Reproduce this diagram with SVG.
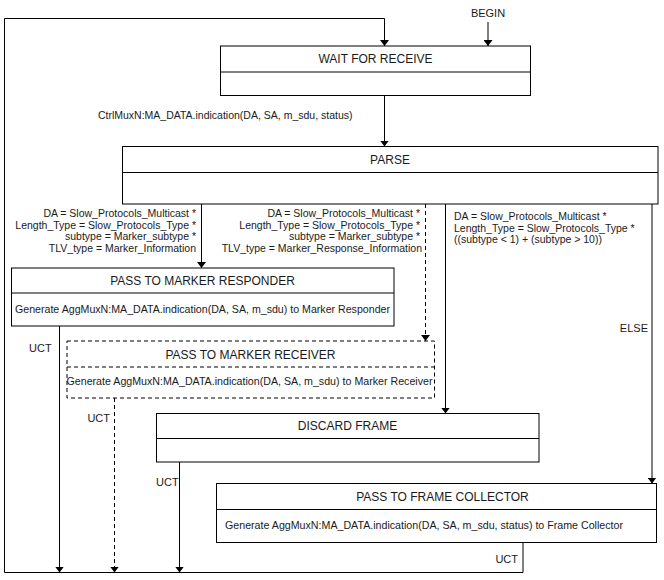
<svg xmlns="http://www.w3.org/2000/svg" width="664" height="580" viewBox="0 0 664 580">
<style>
.box{fill:#fff;stroke:#000;stroke-width:1}
.dbox{fill:#fff;stroke:#000;stroke-width:1;stroke-dasharray:4,3}
.ln{fill:none;stroke:#000;stroke-width:1}
.dl{fill:none;stroke:#000;stroke-width:1;stroke-dasharray:4,3}
text{font-family:"Liberation Sans",Arial,sans-serif;fill:#1a1a1a}
.t{font-size:12px;text-anchor:middle}
.b{font-size:11px}
.c{font-size:10.5px}
.e{text-anchor:end}
</style>
<defs>
<marker id="ah" viewBox="0 0 6 9" refX="6" refY="4.5" markerWidth="6" markerHeight="9" markerUnits="userSpaceOnUse" orient="auto">
<path d="M0,0 L6,4.5 L0,9 z" fill="#000"/>
</marker>
</defs>
<g id="connectors">
<path class="ln" d="M523,542.5 V572.5 H4.5 V18.5 H384.5 V46" marker-end="url(#ah)"/>
<path class="ln" d="M488,22 V46" marker-end="url(#ah)"/>
<path class="ln" d="M384.5,95.5 V146.5" marker-end="url(#ah)"/>
<path class="ln" d="M201.5,204 V268" marker-end="url(#ah)"/>
<path class="dl" d="M425.5,204 V341" marker-end="url(#ah)"/>
<path class="ln" d="M445.5,204 V413.5" marker-end="url(#ah)"/>
<path class="ln" d="M652,204 V483.5" marker-end="url(#ah)"/>
<path class="ln" d="M59.5,326 V572.5" marker-end="url(#ah)"/>
<path class="dl" d="M114.5,398 V572.5" marker-end="url(#ah)"/>
<path class="ln" d="M179.5,462 V572.5" marker-end="url(#ah)"/>
<text x="488" y="17" class="b" text-anchor="middle">BEGIN</text>
<text x="352.5" y="119" class="e" font-size="10.5">CtrlMuxN:MA_DATA.indication(DA, SA, m_sdu, status)</text>
<text x="196" y="217" class="c e">DA = Slow_Protocols_Multicast *</text>
<text x="196" y="228.5" class="c e">Length_Type = Slow_Protocols_Type *</text>
<text x="196" y="240" class="c e">subtype = Marker_subtype *</text>
<text x="196" y="251.5" class="c e">TLV_type = Marker_Information</text>
<text x="420" y="217" class="c e">DA = Slow_Protocols_Multicast *</text>
<text x="420" y="228.5" class="c e">Length_Type = Slow_Protocols_Type *</text>
<text x="420" y="240" class="c e">subtype = Marker_subtype *</text>
<text x="422" y="251.5" class="c e">TLV_type = Marker_Response_Information</text>
<text x="454" y="220" class="c">DA = Slow_Protocols_Multicast *</text>
<text x="454" y="231.5" class="c">Length_Type = Slow_Protocols_Type *</text>
<text x="454" y="243" class="c">((subtype &lt; 1) + (subtype &gt; 10))</text>
<text x="648" y="332" class="b e">ELSE</text>
<text x="29" y="352" class="b">UCT</text>
<text x="110" y="422" class="b e">UCT</text>
<text x="156" y="486" class="b">UCT</text>
<text x="518" y="563" class="b e">UCT</text>
</g>
<g id="wait">
<rect class="box" x="220.5" y="46" width="310" height="49.5"/>
<line class="ln" x1="220.5" y1="72" x2="530.5" y2="72"/>
<text x="375.5" y="63" class="t">WAIT FOR RECEIVE</text>
</g>
<g id="parse">
<rect class="box" x="122.5" y="146.5" width="535.5" height="57.5"/>
<line class="ln" x1="122.5" y1="172.5" x2="658" y2="172.5"/>
<text x="390" y="164" class="t">PARSE</text>
</g>
<g id="responder">
<rect class="box" x="11.5" y="268" width="382.5" height="58"/>
<line class="ln" x1="11.5" y1="293" x2="394" y2="293"/>
<text x="202.5" y="285" class="t">PASS TO MARKER RESPONDER</text>
<text x="15" y="313" class="b" textLength="375" lengthAdjust="spacingAndGlyphs">Generate AggMuxN:MA_DATA.indication(DA, SA, m_sdu) to Marker Responder</text>
</g>
<g id="receiver">
<rect class="dbox" x="67" y="341" width="367.5" height="57"/>
<line class="dl" x1="67" y1="367" x2="434.5" y2="367"/>
<text x="250.5" y="358.5" class="t">PASS TO MARKER RECEIVER</text>
<text x="66.5" y="385" class="b" textLength="366" lengthAdjust="spacingAndGlyphs">Generate AggMuxN:MA_DATA.indication(DA, SA, m_sdu) to Marker Receiver</text>
</g>
<g id="discard">
<rect class="box" x="156.5" y="413.5" width="382.5" height="48.5"/>
<line class="ln" x1="156.5" y1="438.5" x2="539" y2="438.5"/>
<text x="347.5" y="430" class="t">DISCARD FRAME</text>
</g>
<g id="collector">
<rect class="box" x="216.5" y="483.5" width="440" height="59"/>
<line class="ln" x1="216.5" y1="509.5" x2="656.5" y2="509.5"/>
<text x="442.5" y="501" class="t">PASS TO FRAME COLLECTOR</text>
<text x="225" y="529" class="b" textLength="398" lengthAdjust="spacingAndGlyphs">Generate AggMuxN:MA_DATA.indication(DA, SA, m_sdu, status) to Frame Collector</text>
</g>
</svg>
